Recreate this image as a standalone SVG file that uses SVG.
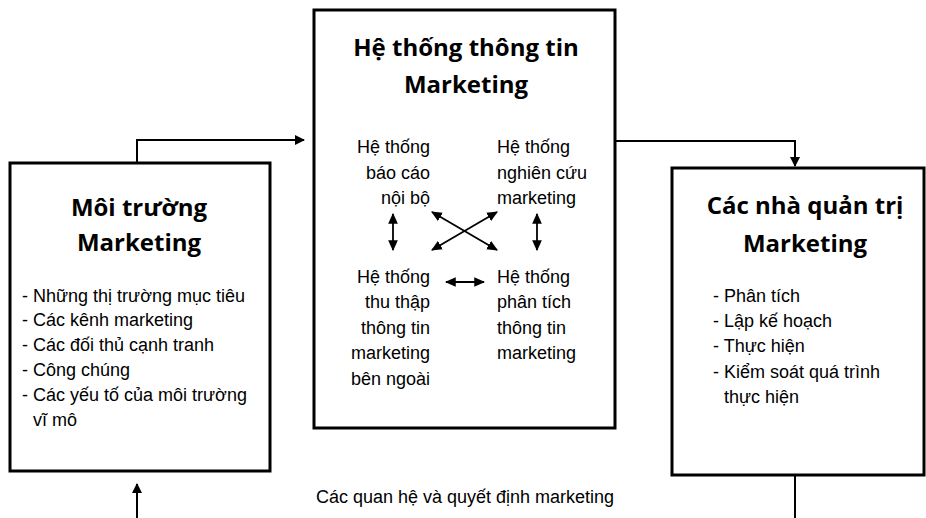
<svg xmlns="http://www.w3.org/2000/svg" width="926" height="518" viewBox="0 0 926 518">
<style>
.box{fill:#fff;stroke:#000;stroke-width:3}
.title{font-family:"Open Sans","DejaVu Sans",sans-serif;font-weight:bold;font-size:24px;fill:#000;text-anchor:middle}
.t{font-family:"Liberation Sans",Arial,sans-serif;font-size:18px;fill:#000}
.r{text-anchor:end}
.ln{fill:none;stroke:#000;stroke-width:2}
.la{fill:none;stroke:#000;stroke-width:1.8}
</style>
<defs>
<marker id="ah" viewBox="0 0 10 10" refX="9" refY="5" markerWidth="5" markerHeight="5" orient="auto-start-reverse"><path d="M0,0 L10,5 L0,10 z" fill="#000"/></marker>
<marker id="sa" viewBox="0 0 10 10" refX="9" refY="5" markerWidth="6" markerHeight="6" orient="auto-start-reverse"><path d="M0,0.5 L10,5 L0,9.5 z" fill="#000"/></marker>
</defs>
<rect width="926" height="518" fill="#fff"/>
<g id="connectors">
<path class="ln" d="M137,162 V140 H304" marker-end="url(#ah)"/>
<path class="ln" d="M615,141 H795 V166" marker-end="url(#ah)"/>
<path class="ln" d="M795,476 V518"/>
<path class="ln" d="M137,518 V484" marker-end="url(#ah)"/>
</g>
<g id="moi-truong">
<rect class="box" x="10" y="163" width="260" height="308"/>
<text class="title" x="139" y="216" font-size="24.5">Môi trường</text>
<text class="title" x="139" y="251" font-size="24.5">Marketing</text>
<text class="t" x="22" y="302">- Những thị trường mục tiêu</text>
<text class="t" x="22" y="326">- Các kênh marketing</text>
<text class="t" x="22" y="351">- Các đối thủ cạnh tranh</text>
<text class="t" x="22" y="376">- Công chúng</text>
<text class="t" x="22" y="401">- Các yếu tố của môi trường</text>
<text class="t" x="33" y="426">vĩ mô</text>
</g>
<g id="he-thong">
<rect class="box" x="314" y="10" width="301" height="418"/>
<text class="title" x="466" y="56">Hệ thống thông tin</text>
<text class="title" x="466" y="93">Marketing</text>
</g>
<g id="bao-cao">
<text class="t r" x="430" y="153">Hệ thống</text>
<text class="t r" x="430" y="179">báo cáo</text>
<text class="t r" x="430" y="204">nội bộ</text>
</g>
<g id="nghien-cuu">
<text class="t" x="497" y="153">Hệ thống</text>
<text class="t" x="497" y="179">nghiên cứu</text>
<text class="t" x="497" y="204">marketing</text>
</g>
<g id="thu-thap">
<text class="t r" x="430" y="283">Hệ thống</text>
<text class="t r" x="430" y="308">thu thập</text>
<text class="t r" x="430" y="334">thông tin</text>
<text class="t r" x="430" y="359">marketing</text>
<text class="t r" x="430" y="385">bên ngoài</text>
</g>
<g id="phan-tich">
<text class="t" x="497" y="283">Hệ thống</text>
<text class="t" x="497" y="308">phân tích</text>
<text class="t" x="497" y="334">thông tin</text>
<text class="t" x="497" y="359">marketing</text>
</g>
<g id="inner-arrows">
<line class="la" x1="393" y1="214" x2="393" y2="250" marker-start="url(#sa)" marker-end="url(#sa)"/>
<line class="la" x1="537" y1="214" x2="537" y2="250" marker-start="url(#sa)" marker-end="url(#sa)"/>
<line class="la" x1="432" y1="212" x2="497" y2="250" marker-start="url(#sa)" marker-end="url(#sa)"/>
<line class="la" x1="497" y1="212" x2="432" y2="250" marker-start="url(#sa)" marker-end="url(#sa)"/>
<line class="la" x1="446" y1="282" x2="484" y2="282" marker-start="url(#sa)" marker-end="url(#sa)"/>
</g>
<g id="nha-quan-tri">
<rect class="box" x="672" y="168" width="252" height="307"/>
<text class="title" x="805" y="214" font-size="25.5">Các nhà quản trị</text>
<text class="title" x="805" y="252" font-size="25.5">Marketing</text>
<text class="t" x="713" y="302">- Phân tích</text>
<text class="t" x="713" y="327">- Lập kế hoạch</text>
<text class="t" x="713" y="352">- Thực hiện</text>
<text class="t" x="713" y="378">- Kiểm soát quá trình</text>
<text class="t" x="724" y="403">thực hiện</text>
</g>
<g id="label">
<text class="t" x="465" y="503" text-anchor="middle" font-size="17.5">Các quan hệ và quyết định marketing</text>
</g>
</svg>
